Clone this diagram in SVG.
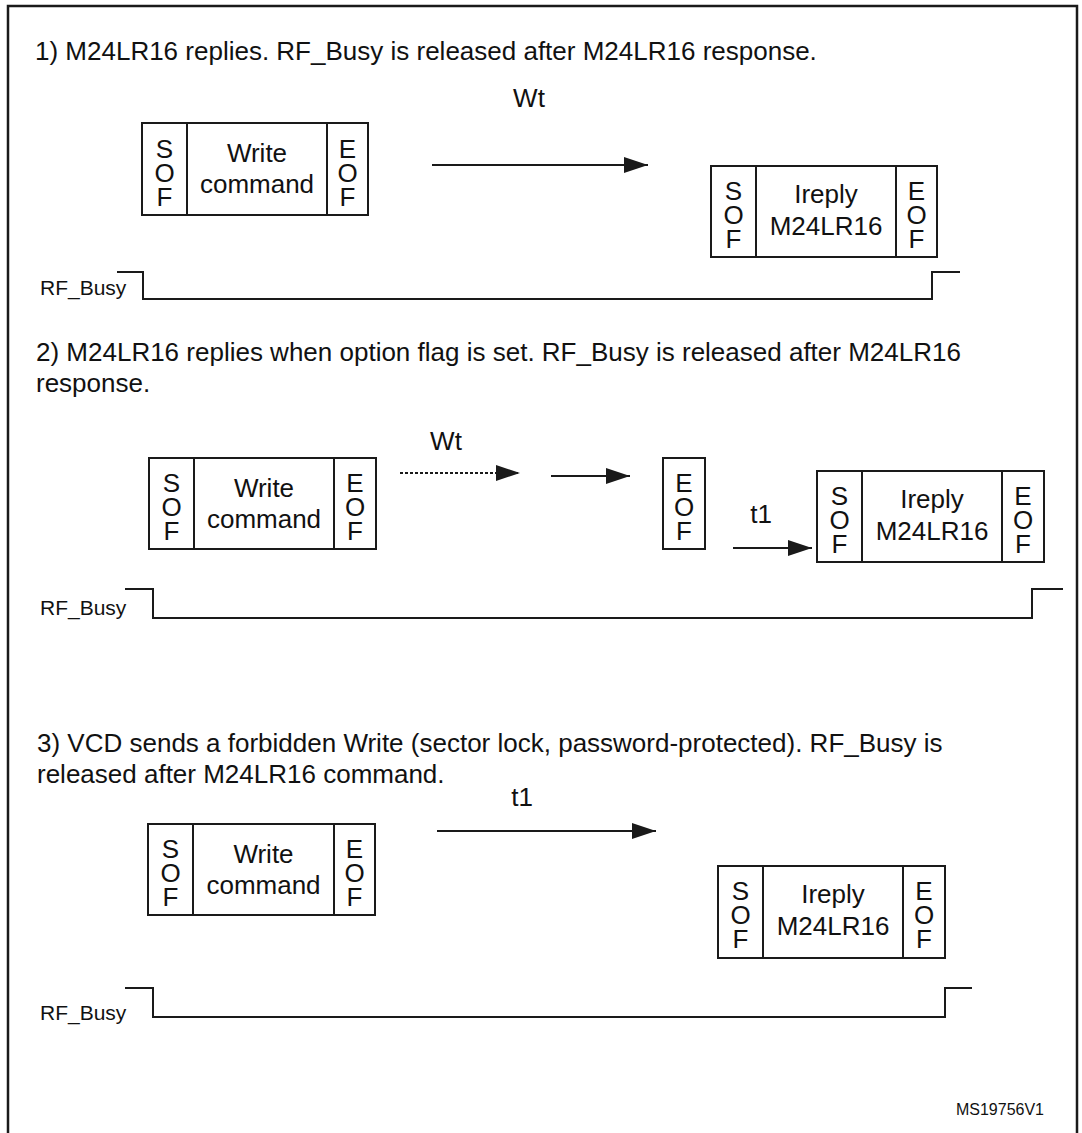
<svg xmlns="http://www.w3.org/2000/svg" width="1082" height="1133" viewBox="0 0 1082 1133">
<defs>
<style>
text{font-family:"Liberation Sans",Arial,sans-serif;fill:#111}
.h{font-size:26px}
.b{font-size:26px;text-anchor:middle}
.v{font-size:26px;writing-mode:vertical-rl;text-orientation:upright;letter-spacing:-6px}
.l{font-size:21px}
.s{font-size:16px}
.box{fill:#fff;stroke:#1a1a1a;stroke-width:2}
.w{fill:none;stroke:#1a1a1a;stroke-width:2}
.a{fill:none;stroke:#1a1a1a;stroke-width:2;marker-end:url(#ah)}
.d{stroke-dasharray:3 2}
</style>
<marker id="ah" markerUnits="userSpaceOnUse" markerWidth="24" markerHeight="16" refX="24" refY="8" orient="auto"><path d="M0,0 L24,8 L0,16 z" fill="#1a1a1a"/></marker>
</defs>
<rect x="0" y="0" width="1082" height="1133" fill="#fff"/>
<path d="M8,1133 V6 H1077 V1133" fill="none" stroke="#1a1a1a" stroke-width="2.5"/>

<text class="h" x="35" y="60">1) M24LR16 replies. RF_Busy is released after M24LR16 response.</text>
<text class="h"><tspan x="36" y="361">2) M24LR16 replies when option flag is set. RF_Busy is released after M24LR16</tspan><tspan x="36" y="392">response.</tspan></text>
<text class="h"><tspan x="37" y="752">3) VCD sends a forbidden Write (sector lock, password-protected). RF_Busy is</tspan><tspan x="37" y="783">released after M24LR16 command.</tspan></text>

<g id="write1">
<rect class="box" x="142" y="123" width="226" height="92"/>
<line class="w" x1="187" y1="123" x2="187" y2="215"/><line class="w" x1="327" y1="123" x2="327" y2="215"/>
<text class="v" x="164.5" y="133.5">SOF</text>
<text class="b"><tspan x="257" y="162">Write</tspan><tspan x="257" y="193">command</tspan></text>
<text class="v" x="347.5" y="133.5">EOF</text>
</g>
<g id="reply1">
<rect class="box" x="711" y="166" width="226" height="91"/>
<line class="w" x1="756" y1="166" x2="756" y2="257"/><line class="w" x1="896" y1="166" x2="896" y2="257"/>
<text class="v" x="733.5" y="176">SOF</text>
<text class="b"><tspan x="826" y="203">Ireply</tspan><tspan x="826" y="235">M24LR16</tspan></text>
<text class="v" x="916.5" y="176">EOF</text>
</g>
<g id="busy1">
<text class="l" x="40" y="295">RF_Busy</text>
</g>

<g id="write2">
<rect class="box" x="149" y="458" width="227" height="91"/>
<line class="w" x1="194" y1="458" x2="194" y2="549"/><line class="w" x1="334" y1="458" x2="334" y2="549"/>
<text class="v" x="171.5" y="468">SOF</text>
<text class="b"><tspan x="264" y="497">Write</tspan><tspan x="264" y="528">command</tspan></text>
<text class="v" x="355" y="468">EOF</text>
</g>
<g id="eof2">
<rect class="box" x="663" y="458" width="42" height="91"/>
<text class="v" x="684" y="468">EOF</text>
</g>
<g id="reply2">
<rect class="box" x="817" y="471" width="227" height="91"/>
<line class="w" x1="862" y1="471" x2="862" y2="562"/><line class="w" x1="1002" y1="471" x2="1002" y2="562"/>
<text class="v" x="839.5" y="481">SOF</text>
<text class="b"><tspan x="932" y="508">Ireply</tspan><tspan x="932" y="540">M24LR16</tspan></text>
<text class="v" x="1023" y="481">EOF</text>
</g>
<g id="busy2">
<text class="l" x="40" y="615">RF_Busy</text>
</g>

<g id="write3">
<rect class="box" x="148" y="824" width="227" height="91"/>
<line class="w" x1="193" y1="824" x2="193" y2="915"/><line class="w" x1="334" y1="824" x2="334" y2="915"/>
<text class="v" x="170.5" y="834">SOF</text>
<text class="b"><tspan x="263.5" y="863">Write</tspan><tspan x="263.5" y="894">command</tspan></text>
<text class="v" x="354.5" y="834">EOF</text>
</g>
<g id="reply3">
<rect class="box" x="718" y="866" width="227" height="92"/>
<line class="w" x1="763" y1="866" x2="763" y2="958"/><line class="w" x1="903" y1="866" x2="903" y2="958"/>
<text class="v" x="740.5" y="876">SOF</text>
<text class="b"><tspan x="833" y="903">Ireply</tspan><tspan x="833" y="935">M24LR16</tspan></text>
<text class="v" x="924" y="876">EOF</text>
</g>
<g id="busy3">
<text class="l" x="40" y="1020">RF_Busy</text>
</g>

<g id="connectors">
<line class="a" x1="432" y1="165" x2="648" y2="165"/>
<text class="b" x="529" y="107">Wt</text>
<polyline class="w" points="117,272 143,272 143,299 932,299 932,272 960,272"/>

<line class="a d" x1="400" y1="473" x2="520" y2="473"/>
<text class="b" x="446" y="450">Wt</text>
<line class="a" x1="551" y1="476" x2="630" y2="476"/>
<line class="a" x1="733" y1="548" x2="812" y2="548"/>
<text class="b" x="761" y="523">t1</text>
<polyline class="w" points="125,589 153,589 153,618 1032,618 1032,589 1063,589"/>

<line class="a" x1="437" y1="831" x2="656" y2="831"/>
<text class="b" x="522" y="806">t1</text>
<polyline class="w" points="125,988 153,988 153,1017 945,1017 945,988 972,988"/>
</g>

<text class="s" x="1044" y="1115" text-anchor="end">MS19756V1</text>
</svg>
